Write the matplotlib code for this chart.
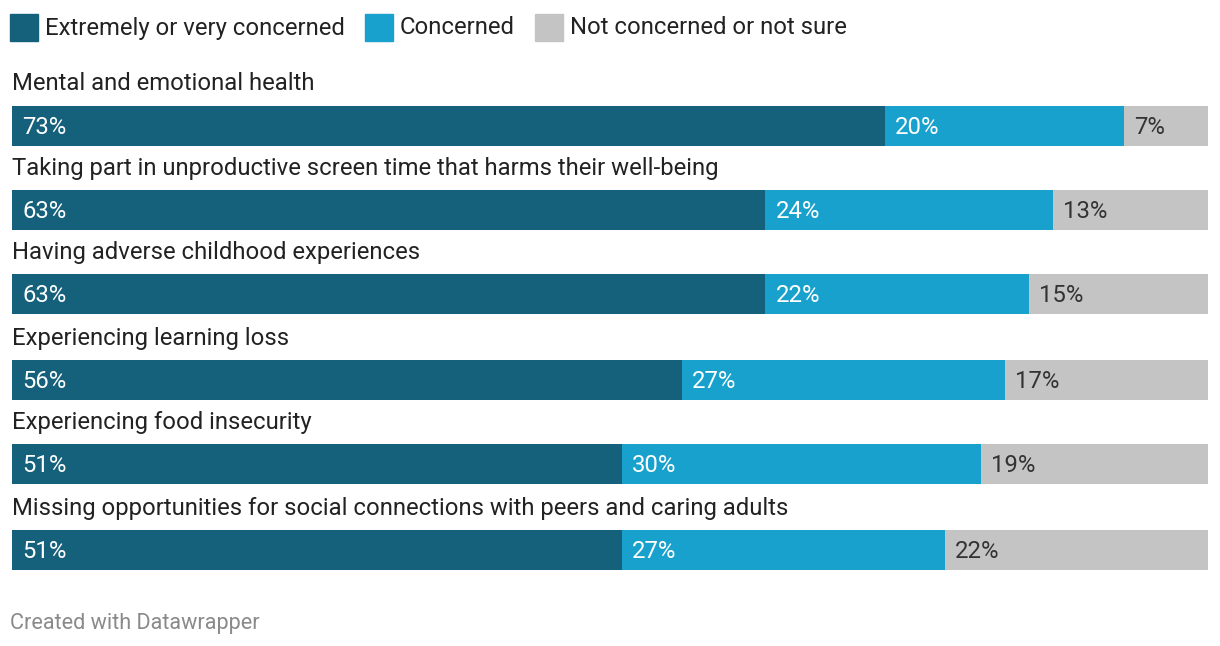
import matplotlib.pyplot as plt
from matplotlib.patches import Rectangle

plt.rcParams['font.family'] = ['Roboto', 'DejaVu Sans']

# data
categories = [
    'Mental and emotional health',
    'Taking part in unproductive screen time that harms their well-being',
    'Having adverse childhood experiences',
    'Experiencing learning loss',
    'Experiencing food insecurity',
    'Missing opportunities for social connections with peers and caring adults',
]
very_concerned = [73, 63, 63, 56, 51, 51]
concerned = [20, 24, 22, 27, 30, 27]
not_concerned = [7, 13, 15, 17, 19, 22]
series_names = ['Extremely or very concerned', 'Concerned', 'Not concerned or not sure']

colors = ['#15607a', '#18a1cd', '#c4c4c4']
text_colors = ['white', 'white', '#333333']

W, H = 1220, 646
fs = 17.2
fig = plt.figure(figsize=(W / 100, H / 100), dpi=100)

# axes spans the bar area horizontally, full figure vertically in pixel units
ax = fig.add_axes([12 / W, 0, 1196 / W, 1])
ax.set_xlim(0, 100)
ax.set_ylim(H, 0)
ax.axis('off')

bar_h = 40
row_centers = [126, 210, 294, 380, 464, 550]
series = [very_concerned, concerned, not_concerned]

for i, cat in enumerate(categories):
    yc = row_centers[i]
    ax.text(0, yc - 42, cat, fontsize=fs, color='#222222', va='center', ha='left')
    left = 0
    for vals, c, tc in zip(series, colors, text_colors):
        v = vals[i]
        ax.barh(yc, v, left=left, height=bar_h, color=c, edgecolor='none')
        ax.text(left + 0.85, yc + 1.5, f'{v}%', fontsize=fs, color=tc, va='center', ha='left')
        left += v

# legend
x = 10
for name, c in zip(series_names, colors):
    fig.patches.append(Rectangle((x / W, 1 - 41 / H), 28 / W, 27 / H,
                                 transform=fig.transFigure, color=c))
    t = fig.text((x + 35) / W, 1 - 28 / H, name, fontsize=fs, color='#222222',
                 va='center', ha='left')
    fig.canvas.draw()
    bb = t.get_window_extent()
    x = bb.x1 + 20

fig.text(10 / W, 1 - 624 / H, 'Created with Datawrapper', fontsize=15.6,
         color='#8a8a8a', va='center', ha='left')

fig.savefig('out.png', dpi=100)
